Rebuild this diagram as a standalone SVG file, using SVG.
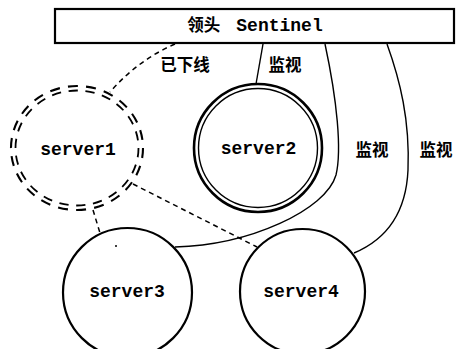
<svg xmlns="http://www.w3.org/2000/svg" width="457" height="349" viewBox="0 0 457 349">
<style>
.bg{fill:#fff}
.node{fill:none;stroke:#000;stroke-width:2.2}
.thin{fill:none;stroke:#000;stroke-width:1.4}
.dash2{fill:none;stroke:#000;stroke-width:2.1;stroke-dasharray:0.55 0.45}
.conn{fill:none;stroke:#000;stroke-width:1.4}
.dconn{fill:none;stroke:#000;stroke-width:1.5;stroke-dasharray:5 4}
.mono{font-family:"Liberation Mono","DejaVu Sans Mono",monospace;font-weight:bold;font-size:18px;fill:#000}
.cjk{font-family:"Noto Sans CJK SC","Noto Sans CJK JP",sans-serif;font-weight:bold;font-size:16.5px;fill:#000}
</style>
<rect class="bg" x="0" y="0" width="457" height="349"/>
<g id="connectors">
  <path class="dconn" d="M175,44 Q138,60 110,92"/>
  <path class="conn" d="M263,44 L256,84"/>
  <path class="conn" d="M325,44 C337,100 342,150 336,175 C326,210 250,245 175,247"/>
  <path class="conn" d="M387,44 C400,80 410,120 408,170 C406,215 385,240 354,253"/>
  <path class="dconn" d="M93,210 L100,233"/>
  <path class="dconn" d="M133,184 L257,247"/>
  <circle cx="116" cy="246" r="1" fill="#000"/>
  <text class="cjk" x="185" y="71" text-anchor="middle">已下线</text>
  <text class="cjk" x="285" y="71" text-anchor="middle">监视</text>
  <text class="cjk" x="372" y="156" text-anchor="middle">监视</text>
  <text class="cjk" x="436" y="156" text-anchor="middle">监视</text>
</g>
<g id="sentinel">
  <rect class="node" x="55" y="9" width="399" height="34"/>
  <text x="255" y="31" text-anchor="middle"><tspan class="cjk">领头</tspan><tspan class="mono" dx="16">Sentinel</tspan></text>
</g>
<g id="server1">
  <path class="dash2" pathLength="22" d="M143,148 A66,62 0 1 1 11,148 A66,62 0 1 1 143,148 Z"/>
  <path class="dash2" pathLength="22" d="M138.5,148 A61.5,57.5 0 1 1 15.5,148 A61.5,57.5 0 1 1 138.5,148 Z" style="stroke-width:1.8"/>
  <text class="mono" x="78" y="155" text-anchor="middle">server1</text>
</g>
<g id="server2">
  <circle class="node" cx="258" cy="148" r="64" style="stroke-width:2.6"/>
  <circle class="thin" cx="258" cy="148" r="59.5"/>
  <text class="mono" x="258.5" y="154" text-anchor="middle">server2</text>
</g>
<g id="server3">
  <circle class="node" cx="127.5" cy="292.5" r="64.5"/>
  <text class="mono" x="127" y="297" text-anchor="middle">server3</text>
</g>
<g id="server4">
  <circle class="node" cx="302.5" cy="291.5" r="62.5"/>
  <text class="mono" x="301" y="297" text-anchor="middle">server4</text>
</g>
</svg>
